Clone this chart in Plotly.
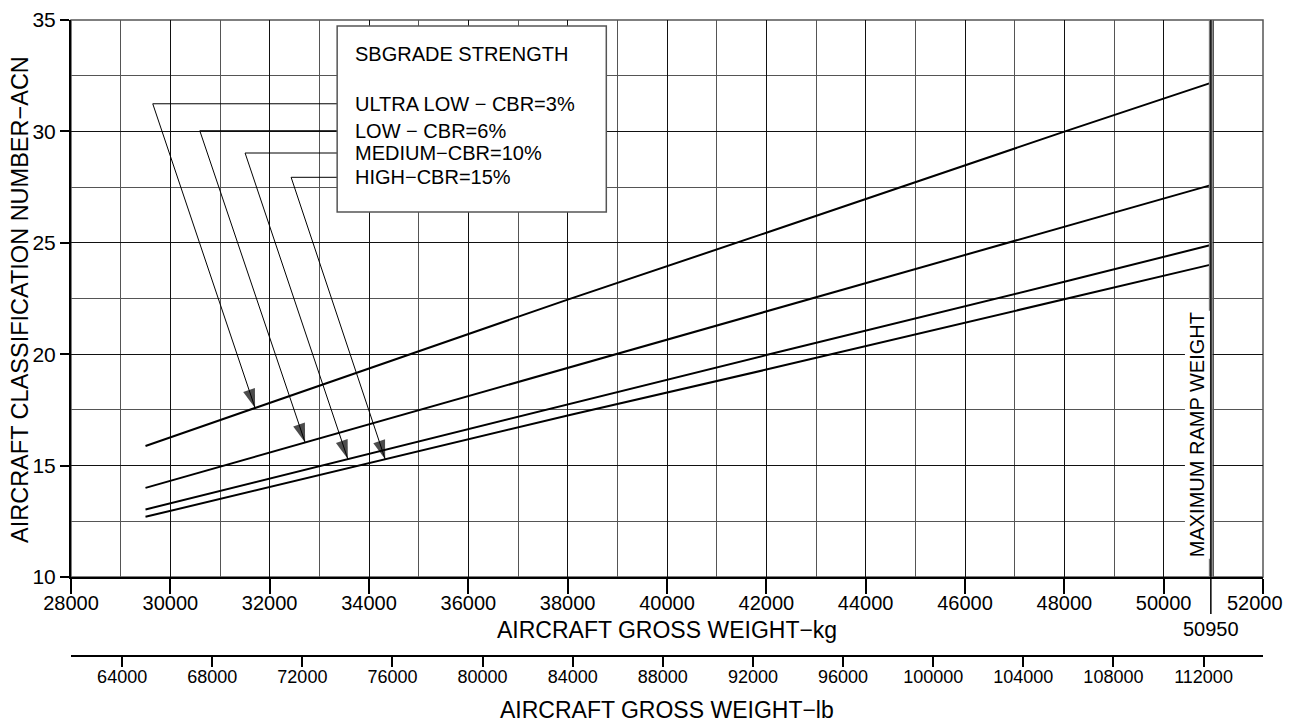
import numpy as np
import plotly.graph_objects as go

# ---------------- data ----------------
weight_kg = [29500, 38000, 42000, 48000, 50950]
acn_ultra_low = [15.88, 22.45, 25.45, 29.99, 32.18]   # CBR = 3%
acn_low = [14.0, 19.38, 21.92, 25.71, 27.59]          # CBR = 6%
acn_medium = [13.03, 17.75, 19.96, 23.25, 24.9]       # CBR = 10%
acn_high = [12.7, 17.25, 19.31, 22.47, 24.02]         # CBR = 15%

series_names = ["ULTRA LOW − CBR=3%", "LOW − CBR=6%", "MEDIUM−CBR=10%", "HIGH−CBR=15%"]
series_values = [acn_ultra_low, acn_low, acn_medium, acn_high]

# leader lines: label row height (ACN), corner x (kg), arrow tip x (kg)
leader_y = [31.24, 30.03, 29.03, 27.94]
leader_corner_kg = [29646, 30593, 31505, 32432]
leader_tip_kg = [31707, 32714, 33574, 34326]

max_ramp_kg = 50950
kg_range = [28000, 52000]
acn_range = [10, 35]
KG_TO_LB = 2.20462262

kg_tick_vals = [28000, 30000, 32000, 34000, 36000, 38000, 40000, 42000,
                44000, 46000, 48000, 50000, 52000]
# last label is drawn separately (shifted left so that it stays on the page)
kg_tick_text = ["28000", "30000", "32000", "34000", "36000", "38000", "40000", "42000",
                "44000", "46000", "48000", "50000", ""]
kg_last_label = "52000"

legend_box_x = [33359, 38778]
legend_box_y = [26.38, 34.73]
legend_title = "SBGRADE STRENGTH"

FONT = "Liberation Sans, Arial, Helvetica, sans-serif"

# page geometry (page has an 8px body margin)
OFF = 8
PLOT_L, PLOT_R, PAPER_T, PAPER_B = 71, 1263, 20, 656
PAPER_H = PAPER_B - PAPER_T
PAPER_W = PLOT_R - PLOT_L


def py(page_y):
    return (PAPER_B - page_y) / PAPER_H


def px(page_x):
    return (page_x - PLOT_L) / PAPER_W


# ---------------- figure ----------------
fig = go.Figure()

for name, vals in zip(series_names, series_values):
    fig.add_trace(go.Scatter(x=weight_kg, y=vals, mode="lines", name=name,
                             line=dict(color="black", width=2), showlegend=False,
                             hoverinfo="x+y"))

for yl, xc, xt, vals in zip(leader_y, leader_corner_kg, leader_tip_kg, series_values):
    yt = float(np.interp(xt, weight_kg, vals))
    fig.add_trace(go.Scatter(
        x=[legend_box_x[0], xc, xt], y=[yl, yl, yt],
        mode="lines+markers", showlegend=False, hoverinfo="skip",
        line=dict(color="black", width=1),
        marker=dict(symbol="arrow", size=[0, 0, 20], angleref="previous",
                    color="black", line=dict(width=0)),
    ))

# dummy trace for the lb axis
fig.add_trace(go.Scatter(x=[kg_range[0] * KG_TO_LB, kg_range[1] * KG_TO_LB], y=[None, None],
                         xaxis="x2", yaxis="y", mode="lines", showlegend=False,
                         hoverinfo="skip"))

ydom0 = py(577)

fig.update_layout(
    width=1291 - OFF, height=724 - OFF,
    margin=dict(l=PLOT_L - OFF, r=1291 - PLOT_R, t=PAPER_T - OFF, b=724 - PAPER_B, autoexpand=False),
    paper_bgcolor="white", plot_bgcolor="white",
    font=dict(family=FONT, color="black", size=20),
    xaxis=dict(range=kg_range, tickmode="array", tickvals=kg_tick_vals, ticktext=kg_tick_text,
               showgrid=True, gridcolor="#111", gridwidth=1.2,
               minor=dict(dtick=1000, tick0=0, showgrid=True, gridcolor="#555", gridwidth=1.2, ticks=""),
               showline=True, linecolor="black", linewidth=2,
               ticks="outside", ticklen=15, tickwidth=1.5, tickcolor="black",
               ticklabelstandoff=-8,
               tickfont=dict(size=20), zeroline=False, anchor="y"),
    yaxis=dict(range=acn_range, dtick=5, tick0=0, domain=[ydom0, 1],
               showgrid=True, gridcolor="#111", gridwidth=1.2,
               minor=dict(dtick=2.5, tick0=0, showgrid=True, gridcolor="#555", gridwidth=1.2, ticks=""),
               showline=True, linecolor="black", linewidth=2,
               ticks="outside", ticklen=9, tickwidth=1.5, tickcolor="black",
               tickfont=dict(size=21), zeroline=False),
    xaxis2=dict(range=[kg_range[0] * KG_TO_LB, kg_range[1] * KG_TO_LB],
                overlaying="x", anchor="free", position=0, side="bottom",
                dtick=4000, tick0=0, tickformat="d", showgrid=False, zeroline=False,
                showline=True, linecolor="black", linewidth=2,
                ticks="outside", ticklen=10, tickwidth=1.5, tickcolor="black",
                ticklabelstandoff=-6,
                tickfont=dict(size=18)),
)

# frame (top / right)
fig.add_shape(type="rect", xref="x domain", yref="y domain", x0=0, x1=1, y0=0, y1=1,
              line=dict(color="#555", width=1.5), layer="below")

# maximum ramp weight line
fig.add_shape(type="line", xref="x", yref="y", x0=max_ramp_kg, x1=max_ramp_kg,
              y0=acn_range[0], y1=acn_range[1], line=dict(color="#777", width=4), layer="above")
fig.add_shape(type="line", xref="x", yref="y", x0=max_ramp_kg, x1=max_ramp_kg,
              y0=acn_range[0], y1=acn_range[1], line=dict(color="black", width=1.2), layer="above")
# extended tick at 50950
fig.add_shape(type="line", xref="x", yref="paper", x0=max_ramp_kg, x1=max_ramp_kg,
              y0=ydom0, y1=py(614), line=dict(color="black", width=1.5))

# last kg tick label
fig.add_annotation(x=kg_range[1], y=py(603), xref="x", yref="paper", text=kg_last_label,
                   showarrow=False, xanchor="center", yanchor="middle", xshift=-8,
                   font=dict(size=20))

# legend box
fig.add_shape(type="rect", xref="x", yref="y", x0=legend_box_x[0], x1=legend_box_x[1],
              y0=legend_box_y[0], y1=legend_box_y[1],
              line=dict(color="#555", width=1.5), fillcolor="white", layer="above")

fig.add_annotation(x=33681, y=33.47, xref="x", yref="y", text=legend_title,
                   showarrow=False, xanchor="left", yanchor="middle", font=dict(size=20))
for name, yl in zip(series_names, leader_y):
    fig.add_annotation(x=33681, y=yl, xref="x", yref="y", text=name,
                       showarrow=False, xanchor="left", yanchor="middle", font=dict(size=20))

# max ramp weight text
fig.add_annotation(x=max_ramp_kg, y=16.4, xref="x", yref="y", text="MAXIMUM RAMP WEIGHT",
                   textangle=-90, showarrow=False, xanchor="right", yanchor="middle",
                   bgcolor="white", borderpad=1, font=dict(size=20))

fig.add_annotation(x=max_ramp_kg, y=py(629), xref="x", yref="paper", text="50950",
                   showarrow=False, xanchor="center", yanchor="middle", font=dict(size=20))

# axis titles
fig.add_annotation(x=0.5, y=py(630), xref="paper", yref="paper",
                   text="AIRCRAFT GROSS WEIGHT−kg", showarrow=False,
                   xanchor="center", yanchor="middle", font=dict(size=23))
fig.add_annotation(x=0.5, y=py(710), xref="paper", yref="paper",
                   text="AIRCRAFT GROSS WEIGHT−lb", showarrow=False,
                   xanchor="center", yanchor="middle", font=dict(size=23))
fig.add_annotation(x=px(20), y=py(300), xref="paper", yref="paper",
                   text="AIRCRAFT CLASSIFICATION NUMBER−ACN", showarrow=False, textangle=-90,
                   xanchor="center", yanchor="middle", font=dict(size=23.5))

fig.write_html("out.html")
